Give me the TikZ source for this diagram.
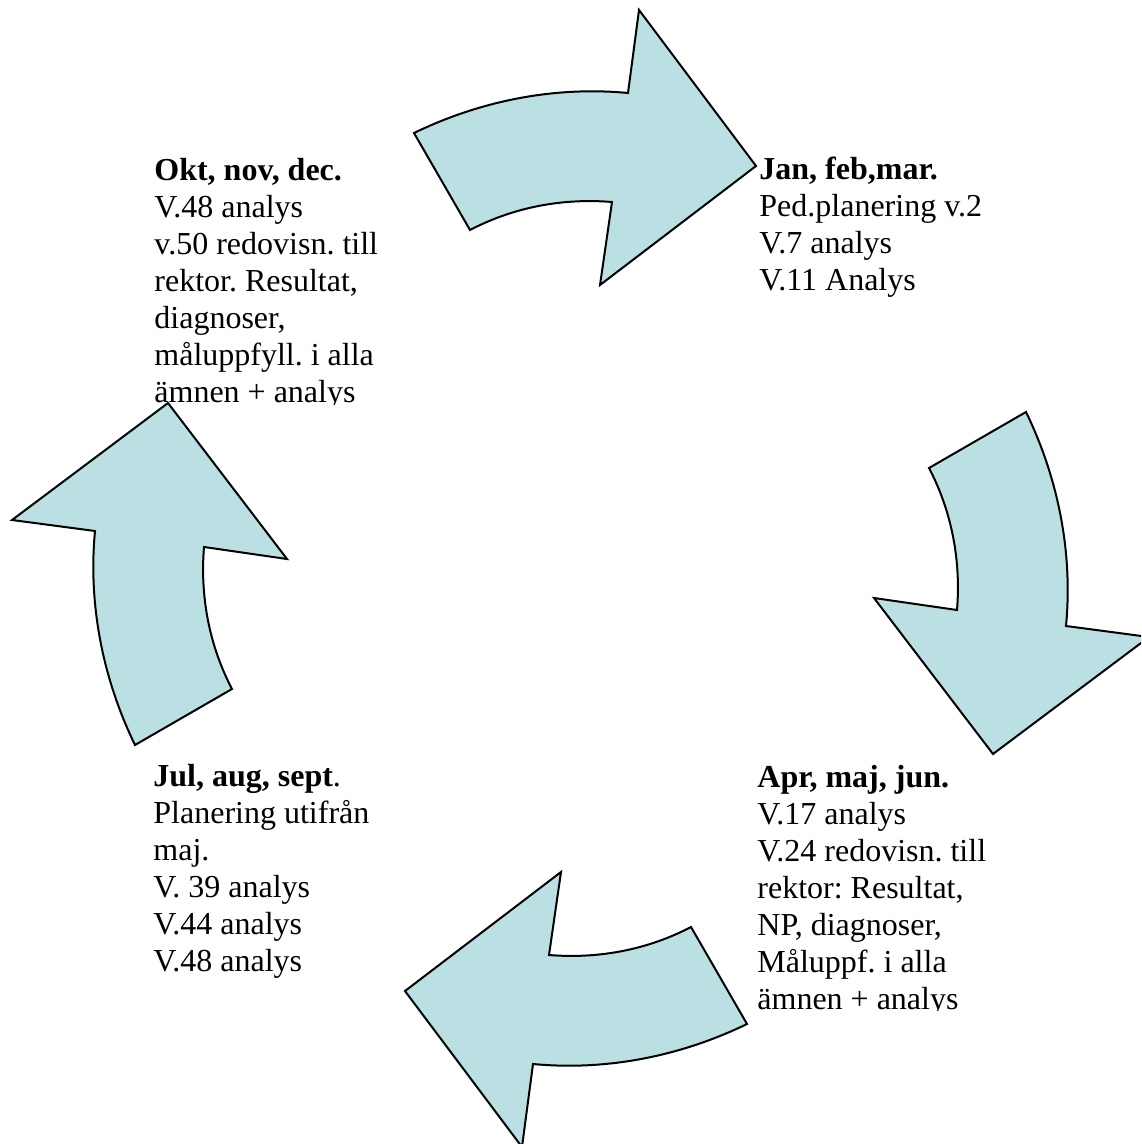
\documentclass[tikz,border=0pt]{standalone}
\usepackage{fontspec}
\setmainfont{Liberation Serif}
\usetikzlibrary{positioning}
\definecolor{arrowfill}{RGB}{187,224,227}
\frenchspacing

\begin{document}
\begin{tikzpicture}[x=0.5pt, y=-0.5pt,
  cyclearrow/.style={draw=black, line width=1pt, fill=arrowfill, line join=miter},
  monthtext/.style={anchor=north west, inner sep=0pt, align=left, font=\fontsize{16}{18.5}\selectfont}]
\clip (0,0) rectangle (1141,1144);
% four arrows, each one turned a quarter round the centre
\foreach \ang in {0,-90,-180,-270}
  \draw[cyclearrow, rotate around={\ang:(580.5,578.5)}]
    (414,133) .. controls (480,101) and (554,86) .. (628,93) -- (639,10) -- (756,166)
    -- (600,285) -- (612,202) .. controls (563,198) and (514,207) .. (470,230) -- cycle;
% the four quarters of the year
\begin{scope}
\clip (140,140) rectangle (420,404);
\node[monthtext] (okt) at (154,154) {\strut\textbf{Okt, nov, dec.}\\V.48 analys\\v.50 redovisn. till\\rektor. Resultat,\\diagnoser,\\måluppfyll. i alla\\ämnen + analys};
\end{scope}
\node[monthtext] (jan) at (759,153) {\strut\textbf{Jan, feb,mar.}\\Ped.planering v.2\\V.7 analys\\V.11 Analys};
\begin{scope}
\clip (740,740) rectangle (1030,1010);
\node[monthtext] (apr) at (757,761) {\strut\textbf{Apr, maj, jun.}\\V.17 analys\\V.24 redovisn. till\\rektor: Resultat,\\NP, diagnoser,\\Måluppf. i alla\\ämnen + analys};
\end{scope}
\node[monthtext] (jul) at (153,760) {\strut\textbf{Jul, aug, sept}.\\Planering utifrån\\maj.\\V. 39 analys\\V.44 analys\\V.48 analys};
\end{tikzpicture}
\end{document}
